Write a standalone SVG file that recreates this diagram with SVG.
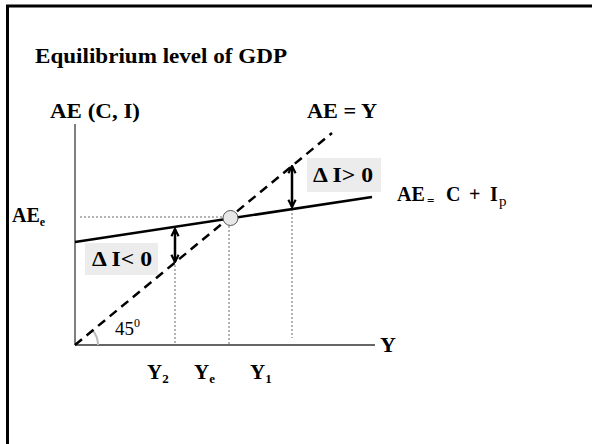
<svg xmlns="http://www.w3.org/2000/svg" width="592" height="444" viewBox="0 0 592 444">
<defs>
<style>
text{font-family:"Liberation Serif","Times New Roman",serif;fill:#000}
.b{font-weight:bold}
.dot{stroke:#444;stroke-width:0.8;stroke-dasharray:2 2;fill:none}
.arr{stroke:#000;stroke-width:2.5;fill:none;marker-start:url(#h);marker-end:url(#h)}
.box{fill:#ececec}
</style>
<marker id="h" viewBox="0 0 10 10" refX="9" refY="5" markerWidth="9" markerHeight="12" orient="auto-start-reverse" markerUnits="userSpaceOnUse">
<path d="M1 1 L9 5 L1 9" fill="none" stroke="#000" stroke-width="2.4"/>
</marker>
</defs>
<rect width="592" height="444" fill="#fff"/>
<g id="frame"><path d="M7.5 444 V6 H592" fill="none" stroke="#000" stroke-width="3"/></g>
<text id="title" class="b" x="35" y="63" font-size="20" textLength="252" lengthAdjust="spacingAndGlyphs">Equilibrium level of  GDP</text>
<g id="axes">
<line x1="75" y1="124" x2="75" y2="345" stroke="#000" stroke-width="1"/>
<line x1="75" y1="345" x2="375" y2="345" stroke="#333" stroke-width="1.5"/>
<path d="M92.7 330.4 A23 23 0 0 1 98 345" fill="none" stroke="#bbb" stroke-width="2"/>
</g>
<g id="connectors">
<line class="dot" x1="80" y1="217" x2="223" y2="217"/>
<line class="dot" x1="175" y1="265" x2="175" y2="345"/>
<line class="dot" x1="229" y1="226" x2="229" y2="345"/>
<line class="dot" x1="292" y1="209" x2="292" y2="338"/>
<line x1="75" y1="345" x2="332" y2="133" stroke="#000" stroke-width="2.5" stroke-dasharray="9 6"/>
<line x1="75" y1="242" x2="372" y2="197" stroke="#000" stroke-width="2.5"/>
<line class="arr" x1="175" y1="229" x2="175" y2="262"/>
<line class="arr" x1="292" y1="166" x2="292" y2="207"/>
</g>
<g id="eq"><circle cx="230.5" cy="218" r="7.5" fill="#e8e8e8" stroke="#555" stroke-width="1"/></g>
<g id="lbl-ylabel"><text class="b" x="50" y="118" font-size="20" textLength="90" lengthAdjust="spacingAndGlyphs">AE (C, I)</text></g>
<g id="lbl-aey"><text class="b" x="307" y="118" font-size="20" textLength="70" lengthAdjust="spacingAndGlyphs">AE = Y</text></g>
<g id="lbl-aec"><text class="b" font-size="20" y="201"><tspan x="397">AE</tspan><tspan x="427" font-size="13" dy="4">=</tspan><tspan x="446" dy="-4">C</tspan><tspan x="469">+</tspan><tspan x="490">I</tspan><tspan x="499" font-size="15" font-weight="normal" dy="5">p</tspan></text></g>
<g id="lbl-aee"><text class="b" x="12" y="222" font-size="20">AE<tspan font-size="12" dy="4">e</tspan></text></g>
<g id="neg">
<rect class="box" x="85" y="243" width="73" height="32"/>
<text class="b" x="92" y="266" font-size="21" textLength="60" lengthAdjust="spacingAndGlyphs">Δ I&lt; 0</text>
</g>
<g id="pos">
<rect class="box" x="307" y="158" width="74" height="34"/>
<text class="b" x="313" y="182" font-size="21" textLength="60" lengthAdjust="spacingAndGlyphs">Δ I&gt; 0</text>
</g>
<g id="ticks">
<text class="b" x="147" y="379" font-size="21">Y<tspan font-size="13" dy="4">2</tspan></text>
<text class="b" x="194" y="379" font-size="21">Y<tspan font-size="13" dy="4">e</tspan></text>
<text class="b" x="250" y="379" font-size="21">Y<tspan font-size="13" dy="4">1</tspan></text>
<text class="b" x="380" y="352" font-size="22">Y</text>
<text x="115" y="335" font-size="19">45<tspan font-size="12" dy="-8">0</tspan></text>
</g>
</svg>
